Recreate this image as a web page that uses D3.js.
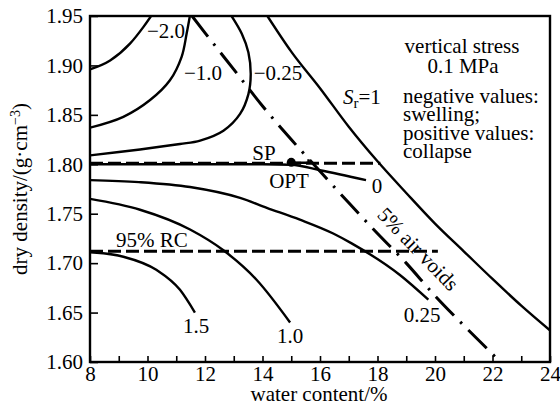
<!DOCTYPE html>
<html><head><meta charset="utf-8">
<script src="https://cdn.jsdelivr.net/npm/d3@7"></script>
<style>body{margin:0;background:#fff}svg{display:block}</style>
</head><body>
<script>
const xTicks = [8,10,12,14,16,18,20,22,24];
const xMinor = [8,9,10,11,12,13,14,15,16,17,18,19,20,21,22,23,24];
const yTicks = [1.60,1.65,1.70,1.75,1.80,1.85,1.90,1.95];

const cM20  = [[8,1.896],[8.7,1.905],[9.39,1.922],[9.86,1.939],[10.15,1.951]];
const cM10  = [[8,1.837],[9.16,1.848],[10.09,1.865],[10.78,1.885],[11.19,1.909],[11.36,1.932],[11.48,1.951]];
const cM025 = [[8,1.809],[9.74,1.815],[11.13,1.8205],[11.83,1.824],[12.64,1.834],[13.22,1.851],[13.51,1.871],[13.59,1.891],[13.51,1.913],[13.28,1.932],[12.9,1.951]];
const c0    = [[8,1.800],[11,1.800],[14,1.800],[15.0,1.7995],[16.0,1.794],[17.6,1.784]];
const c025  = [[8,1.784],[9.7,1.782],[11.48,1.777],[13.22,1.766],[14.15,1.756],[15.3,1.744],[16.46,1.730],[17.1,1.720],[18.78,1.688],[19.77,1.663]];
const c10   = [[8,1.765],[9.74,1.754],[11.48,1.734],[12.64,1.713],[13.8,1.683],[14.96,1.640]];
const c15   = [[8,1.711],[9.16,1.7065],[10.32,1.693],[11.13,1.673],[11.65,1.650]];
const srLine = [[14.17,1.950],[15,1.914],[16,1.877],[17,1.838],[18,1.803],[19,1.771],[20,1.740],[21,1.712],[22,1.684],[23,1.657],[24,1.632]];
const airVoids = [[11.55,1.950],[12,1.933],[13,1.896],[14,1.859],[15,1.825],[16,1.793],[17,1.761],[18,1.730],[19,1.700],[20,1.667],[21,1.637],[22,1.608],[22.3,1.599]];
const spLine = [[8,1.801],[18.1,1.801]];
const spMark = [[15.0,1.8015],[15.6,1.8015],[15.6,1.805]];
const rcLine = [[8,1.712],[20.1,1.712]];
const opt = [15.0,1.802];

const FONT = "Liberation Serif";
const W=560,H=415, L=90,R=550,T=16,B=362;
const svg=d3.select("body").append("svg").attr("width",W).attr("height",H).attr("font-family",FONT);
const x=d3.scaleLinear().domain([8,24]).range([L,R]);
const y=d3.scaleLinear().domain([1.60,1.95]).range([B,T]);

svg.append("clipPath").attr("id","clip").append("rect").attr("x",L).attr("y",T).attr("width",R-L).attr("height",B-T);
const g=svg.append("g").attr("clip-path","url(#clip)");
const cat=d3.line().x(d=>x(d[0])).y(d=>y(d[1])).curve(d3.curveCatmullRom.alpha(0.5));
const mono=d3.line().x(d=>x(d[0])).y(d=>y(d[1])).curve(d3.curveMonotoneX);
const lin=d3.line().x(d=>x(d[0])).y(d=>y(d[1]));

[cM20,c0,c025,c10,c15].forEach(c=>{
  g.append("path").attr("d",mono(c)).attr("fill","none").attr("stroke","#000").attr("stroke-width",2.4);
});
[cM10,cM025].forEach(c=>{
  g.append("path").attr("d",cat(c)).attr("fill","none").attr("stroke","#000").attr("stroke-width",2.4);
});
g.append("path").attr("d",mono(srLine)).attr("fill","none").attr("stroke","#000").attr("stroke-width",2.4);
g.append("path").attr("d",mono(airVoids)).attr("fill","none").attr("stroke","#000").attr("stroke-width",3).attr("stroke-dasharray","26,9,2.5,9");
[spLine,rcLine].forEach(c=>{
  g.append("path").attr("d",lin(c)).attr("fill","none").attr("stroke","#000").attr("stroke-width",3).attr("stroke-dasharray","13,5");
});
g.append("path").attr("d",lin(spMark)).attr("fill","none").attr("stroke","#000").attr("stroke-width",2.4);
g.append("circle").attr("cx",x(opt[0])).attr("cy",y(opt[1])).attr("r",4.5).attr("fill","#000");

// axes
const ax=svg.append("g");
ax.append("rect").attr("x",L).attr("y",T).attr("width",R-L).attr("height",B-T).attr("fill","none").attr("stroke","#000").attr("stroke-width",2.4);
const xAxis=d3.axisBottom(x).tickValues(xMinor).tickSize(-6).tickFormat(d=>xTicks.includes(d)?d:"").tickPadding(4);
const gx=ax.append("g").attr("transform",`translate(0,${B})`).call(xAxis);
const yAxis=d3.axisLeft(y).tickValues(yTicks).tickSize(-8).tickFormat(d3.format(".2f")).tickPadding(7);
const gy=ax.append("g").attr("transform",`translate(${L},0)`).call(yAxis);
[gx,gy].forEach(a=>{a.attr("font-family",FONT).attr("font-size",21);a.select(".domain").remove();a.selectAll("line").attr("stroke","#000").attr("stroke-width",1.6);
  a.selectAll("text").attr("font-family",FONT).attr("fill","#000");});

const fs=21;
function t(s,px,py,anchor="middle",size=fs){return svg.append("text").attr("x",px).attr("y",py).attr("text-anchor",anchor).attr("font-family",FONT).attr("font-size",size).text(s);}
t("water content/%",319,401);
svg.append("text").attr("transform","translate(27,189) rotate(-90)").attr("text-anchor","middle").attr("font-family",FONT).attr("font-size",fs)
  .html('dry density/(g·cm<tspan dy="-7" font-size="14">−3</tspan><tspan dy="7">)</tspan>');

t("−2.0",166,38); t("−1.0",203,80); t("−0.25",278,80);
t("SP",264,160); t("OPT",289,188); t("0",377,193);
t("95% RC",152,247); t("1.5",196,333); t("1.0",290,343); t("0.25",422,322);
svg.append("text").attr("x",343).attr("y",104).attr("font-family",FONT).attr("font-size",fs)
  .html('<tspan font-style="italic">S</tspan><tspan font-size="15" dy="4">r</tspan><tspan dy="-4">=1</tspan>');
t("vertical stress",462,53); t("0.1 MPa",463,73);
t("negative values:",403,103,"start"); t("swelling;",403,121,"start");
t("positive values:",403,140,"start"); t("collapse",403,158,"start");
svg.append("text").attr("transform","translate(413,254) rotate(46)").attr("text-anchor","middle").attr("font-family",FONT).attr("font-size",fs).text("5% air voids");
</script>
</body></html>
